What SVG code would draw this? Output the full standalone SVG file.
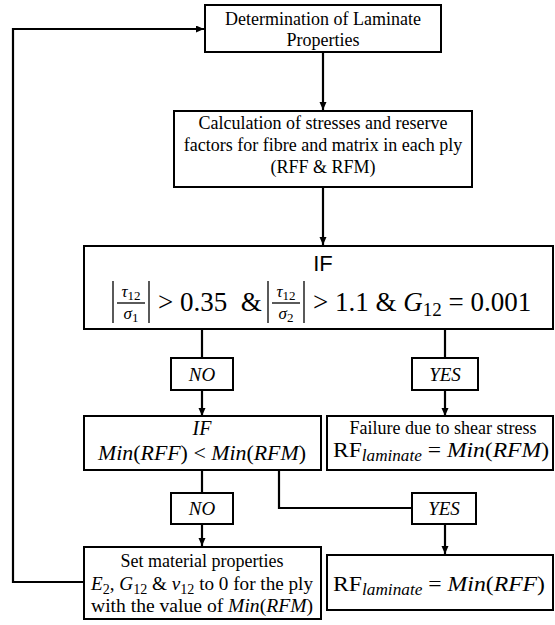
<svg xmlns="http://www.w3.org/2000/svg" width="555" height="625" viewBox="0 0 555 625">
<style>
.box{fill:#fff;stroke:#000;stroke-width:2}
.ln{fill:none;stroke:#000;stroke-width:2.2}
.t{font-family:'Liberation Serif','DejaVu Serif',serif;font-size:18px;fill:#000;text-anchor:middle}
.m{font-family:'Liberation Serif','DejaVu Serif',serif;fill:#000;font-style:italic}
.u{font-style:normal}
.s{font-family:'Liberation Sans',Arial,sans-serif;fill:#000;text-anchor:middle}
</style>
<defs>
<marker id="ah" markerUnits="userSpaceOnUse" markerWidth="8" markerHeight="8" refX="8" refY="3.5" orient="auto">
<path d="M0,0 L8,3.5 L0,7 z" fill="#000"/>
</marker>
</defs>
<g id="connectors">
<path class="ln" d="M323,52 V110" marker-end="url(#ah)"/>
<path class="ln" d="M323,187 V245" marker-end="url(#ah)"/>
<path class="ln" d="M202,329 V358"/>
<path class="ln" d="M202,390 V416" marker-end="url(#ah)"/>
<path class="ln" d="M445,329 V358"/>
<path class="ln" d="M445,390 V416" marker-end="url(#ah)"/>
<path class="ln" d="M202,470 V493"/>
<path class="ln" d="M202,524 V546" marker-end="url(#ah)"/>
<path class="ln" d="M279,470 V508 H412"/>
<path class="ln" d="M445,524 V554" marker-end="url(#ah)"/>
<path class="ln" d="M84,582 H13 V29 H204" marker-end="url(#ah)"/>
</g>
<g id="n1">
<rect class="box" x="205" y="5" width="236" height="47"/>
<text class="t" x="323" y="25">Determination of Laminate</text>
<text class="t" x="323" y="46">Properties</text>
</g>
<g id="n2">
<rect class="box" x="174" y="111" width="298" height="76"/>
<text class="t" x="323" y="129">Calculation of stresses and reserve</text>
<text class="t" x="323" y="151">factors for fibre and matrix in each ply</text>
<text class="t" x="323" y="173">(RFF &amp; RFM)</text>
</g>
<g id="n3">
<rect class="box" x="84" y="246" width="469" height="83"/>
<text class="s" x="323" y="271" font-size="22">IF</text>
<g stroke="#000" stroke-width="1.3">
<line x1="113" y1="281" x2="113" y2="323"/>
<line x1="117" y1="303" x2="145" y2="303"/>
<line x1="149" y1="281" x2="149" y2="323"/>
<line x1="268" y1="281" x2="268" y2="323"/>
<line x1="272" y1="303" x2="300" y2="303"/>
<line x1="304" y1="281" x2="304" y2="323"/>
</g>
<text class="m" x="131" y="297" font-size="17" text-anchor="middle">τ<tspan class="u" font-size="13" dy="3">12</tspan></text>
<text class="m" x="131" y="319" font-size="17" text-anchor="middle">σ<tspan class="u" font-size="13" dy="3">1</tspan></text>
<text class="m" x="286" y="297" font-size="17" text-anchor="middle">τ<tspan class="u" font-size="13" dy="3">12</tspan></text>
<text class="m" x="286" y="319" font-size="17" text-anchor="middle">σ<tspan class="u" font-size="13" dy="3">2</tspan></text>
<text class="m" x="158" y="311" font-size="27" style="font-style:normal" xml:space="preserve">&gt; 0.35  &amp;</text>
<text class="m" x="313" y="311" font-size="27"><tspan class="u">&gt; 1.1 &amp; </tspan>G<tspan class="u" font-size="19" dy="5">12</tspan><tspan class="u" dy="-5"> = 0.001</tspan></text>
</g>
<g id="no1">
<rect class="box" x="171" y="358" width="62" height="32"/>
<text class="m" x="202" y="381" font-size="19" text-anchor="middle">NO</text>
</g>
<g id="yes1">
<rect class="box" x="412" y="358" width="66" height="32"/>
<text class="m" x="445" y="381" font-size="19" text-anchor="middle">YES</text>
</g>
<g id="n4">
<rect class="box" x="84" y="416" width="237" height="54"/>
<text class="m" x="202" y="435" font-size="20" text-anchor="middle">IF</text>
<text class="m" x="202" y="460" font-size="21" text-anchor="middle" textLength="208" lengthAdjust="spacingAndGlyphs">Min<tspan class="u">(</tspan>RFF<tspan class="u">) &lt; </tspan>Min<tspan class="u">(</tspan>RFM<tspan class="u">)</tspan></text>
</g>
<g id="n5">
<rect class="box" x="327" y="416" width="226" height="54"/>
<text class="t" x="443" y="434">Failure due to shear stress</text>
<text class="m" x="333" y="457" font-size="22" textLength="216" lengthAdjust="spacingAndGlyphs"><tspan class="u">RF</tspan><tspan font-size="16" dy="4">laminate</tspan><tspan class="u" dy="-4"> = </tspan>Min<tspan class="u">(</tspan>RFM<tspan class="u">)</tspan></text>
</g>
<g id="no2">
<rect class="box" x="171" y="493" width="62" height="31"/>
<text class="m" x="202" y="515" font-size="19" text-anchor="middle">NO</text>
</g>
<g id="yes2">
<rect class="box" x="412" y="493" width="64" height="31"/>
<text class="m" x="444" y="515" font-size="19" text-anchor="middle">YES</text>
</g>
<g id="n6">
<rect class="box" x="84" y="547" width="237" height="72"/>
<text class="t" x="202" y="567">Set material properties</text>
<text class="m" x="91" y="590" font-size="19" textLength="222" lengthAdjust="spacingAndGlyphs">E<tspan class="u" font-size="14" dy="4">2</tspan><tspan class="u" dy="-4">, </tspan>G<tspan class="u" font-size="14" dy="4">12</tspan><tspan class="u" dy="-4"> &amp; </tspan>ν<tspan class="u" font-size="14" dy="4">12</tspan><tspan class="u" dy="-4"> to 0 for the ply</tspan></text>
<text class="m" x="91" y="612" font-size="18" textLength="222" lengthAdjust="spacingAndGlyphs"><tspan class="u">with the value of </tspan>Min<tspan class="u">(</tspan>RFM<tspan class="u">)</tspan></text>
</g>
<g id="n7">
<rect class="box" x="327" y="555" width="226" height="55"/>
<text class="m" x="333" y="591" font-size="22" textLength="212" lengthAdjust="spacingAndGlyphs"><tspan class="u">RF</tspan><tspan font-size="16" dy="4">laminate</tspan><tspan class="u" dy="-4"> = </tspan>Min<tspan class="u">(</tspan>RFF<tspan class="u">)</tspan></text>
</g>
</svg>
